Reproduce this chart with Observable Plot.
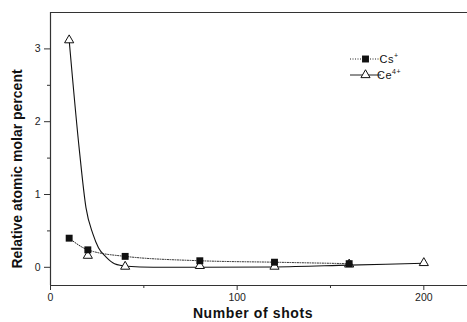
<!DOCTYPE html>
<html><head><meta charset="utf-8">
<script src="https://cdn.jsdelivr.net/npm/d3@7"></script>
<script src="https://cdn.jsdelivr.net/npm/@observablehq/plot@0.6"></script>
<style>
body{margin:0;background:#fff;}
#wrap{width:467px;height:322px;}
</style></head><body><div id="wrap"></div>
<script>
// Data
const csShots = [10, 20, 40, 80, 120, 160];
const csValues = [0.40, 0.24, 0.15, 0.09, 0.07, 0.05];
const ceShots = [10, 20, 40, 80, 120, 160, 200];
const ceValues = [3.12, 0.16, 0.01, 0.02, 0.01, 0.04, 0.06];
// Ce4+ fitted curve
const ceFitX = [10, 15.5, 19, 22.7, 25.7, 29.8, 34.3, 41, 55, 80, 120, 160, 200];
const ceFitY = [3.12, 1.6, 0.82, 0.46, 0.27, 0.14, 0.05, 0.015, 0.0, 0.0, 0.005, 0.03, 0.055];
const xTicks = [0, 100, 200];
const xMinorTicks = [50, 150];
const yTicks = [0, 1, 2, 3];
const yMinorTicks = [0.5, 1.5, 2.5];
const xLabel = "Number of shots";
const yLabel = "Relative atomic molar percent";
const seriesNames = [["Cs", "+"], ["Ce", "4+"]];

const cs = csShots.map((x, i) => ({x, y: csValues[i]}));
const ce = ceShots.map((x, i) => ({x, y: ceValues[i]}));
const ceFit = ceFitX.map((x, i) => ({x, y: ceFitY[i]}));

const font = "'Liberation Sans', Arial, sans-serif";
const xDomain = [0, 223.4], yDomain = [-0.25, 3.5];

const plot = Plot.plot({
  width: 467, height: 322,
  marginLeft: 50, marginRight: 0, marginTop: 12, marginBottom: 37,
  x: {domain: xDomain},
  y: {domain: yDomain},
  style: {fontFamily: font, fontSize: "10.5px", color: "#222", background: "white"},
  marks: [
    Plot.axisX({ticks: xTicks, tickSize: 5, tickPadding: 3, tickFormat: d => String(d), label: null, stroke: "#333"}),
    Plot.axisX({ticks: xMinorTicks, tickSize: 3, tickFormat: () => "", label: null, stroke: "#333"}),
    Plot.axisY({ticks: yTicks, tickSize: 6, tickPadding: 4, tickFormat: d => String(d), label: null, stroke: "#333"}),
    Plot.axisY({ticks: yMinorTicks, tickSize: 3, tickFormat: () => "", label: null, stroke: "#333"}),
    Plot.ruleX([xDomain[0]], {stroke: "#333", strokeWidth: 1.2}),
    Plot.ruleY([yDomain[1]], {stroke: "#333", strokeWidth: 1.2}),
    Plot.ruleY([yDomain[0]], {stroke: "#333", strokeWidth: 1.2}),
    Plot.line(ceFit, {x: "x", y: "y", curve: "monotone-x", stroke: "#111", strokeWidth: 1.1}),
    Plot.line(cs, {x: "x", y: "y", curve: "monotone-x", stroke: "#222", strokeWidth: 1, strokeDasharray: "1,1.5"}),
    Plot.dot(ce, {x: "x", y: "y", symbol: "triangle", r: 3.4, fill: "white", stroke: "#111", strokeWidth: 1}),
    Plot.dot(cs, {x: "x", y: "y", symbol: "square", r: 3.9, fill: "#111", stroke: "none"})
  ]
});
document.getElementById("wrap").appendChild(plot);

const svg = d3.select(plot);
// Axis titles
svg.append("text")
  .attr("x", 253).attr("y", 318)
  .attr("text-anchor", "middle")
  .attr("font-family", font).attr("font-weight", "bold").attr("font-size", 14)
  .attr("letter-spacing", 0.6)
  .attr("fill", "#111")
  .text(xLabel);
svg.append("text")
  .attr("transform", "translate(22,169) rotate(-90)")
  .attr("text-anchor", "middle")
  .attr("font-family", font).attr("font-weight", "bold").attr("font-size", 14)
  .attr("fill", "#111")
  .text(yLabel);

// Legend
const lg = svg.append("g").attr("font-family", font).attr("fill", "#111");
const rows = [
  {y: 59, dash: "1,1.5", sym: d3.symbolSquare, size: 48, fill: "#111", stroke: "none"},
  {y: 75, dash: null, sym: d3.symbolTriangle, size: 36, fill: "white", stroke: "#111"}
];
rows.forEach((r, i) => {
  lg.append("line").attr("x1", 350).attr("x2", 381).attr("y1", r.y).attr("y2", r.y)
    .attr("stroke", "#222").attr("stroke-width", 1).attr("stroke-dasharray", r.dash);
  lg.append("path").attr("d", d3.symbol(r.sym, r.size)())
    .attr("transform", `translate(365.5,${r.y})`)
    .attr("fill", r.fill).attr("stroke", r.stroke);
  const t = lg.append("text").attr("x", 389).attr("y", r.y + 4).attr("font-size", 11).attr("letter-spacing", 0.5);
  t.append("tspan").text(seriesNames[i][0]);
  t.append("tspan").attr("dy", -5).attr("font-size", 7).text(seriesNames[i][1]);
});
</script>
</body></html>
